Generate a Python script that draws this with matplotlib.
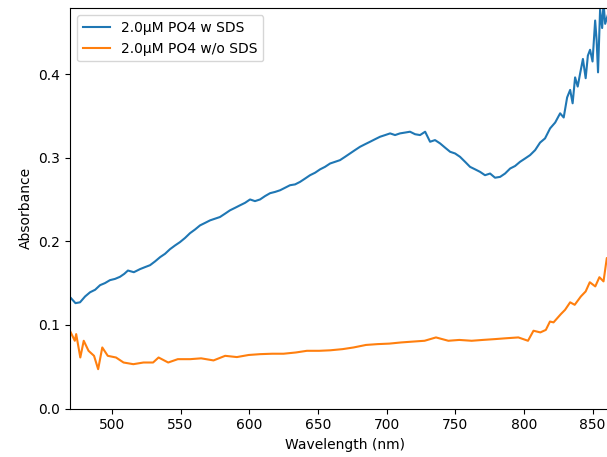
import matplotlib
matplotlib.use("Agg")
import matplotlib.pyplot as plt

# Series: 2.0uM PO4 with SDS
wl_sds = [470.2, 473.5, 476.8, 480.5, 484.1, 487.8, 491.4, 495.0, 498.6, 502.3, 505.9, 509.0,
          511.7, 516.0, 520.5, 524.0, 527.8, 531.5, 535.1, 538.7, 542.3, 546.0, 549.6, 553.3,
          556.9, 560.5, 564.2, 567.9, 571.5, 575.1, 578.7, 582.4, 586.0, 589.7, 593.3, 597.0,
          600.6, 604.2, 607.9, 611.5, 615.2, 618.8, 622.5, 626.1, 629.7, 633.4, 637.0, 640.7,
          644.3, 648.0, 651.6, 655.2, 658.9, 662.5, 666.1, 669.8, 673.4, 677.0, 680.7, 684.3,
          688.0, 691.6, 695.3, 699.0, 702.6, 706.2, 709.8, 713.5, 717.1, 720.8, 724.4, 728.1,
          731.7, 735.3, 739.0, 742.6, 746.3, 749.9, 753.5, 757.2, 760.8, 764.5, 768.1, 771.7,
          775.4, 779.0, 782.7, 786.3, 790.0, 793.6, 797.2, 800.9, 804.5, 808.2, 811.8, 815.4,
          819.1, 822.8, 826.4, 829.0, 831.5, 833.7, 835.5, 837.3, 839.2, 841.0, 843.0, 845.0,
          846.6, 848.2, 850.0, 851.9, 853.0, 854.0, 855.5, 857.0, 858.0, 859.2, 861.0]
ab_sds = [0.132, 0.126, 0.127, 0.134, 0.139, 0.142, 0.1475, 0.150, 0.1535, 0.155, 0.1575, 0.161,
          0.165, 0.163, 0.1667, 0.169, 0.1714, 0.176, 0.181, 0.185, 0.1905, 0.195, 0.199, 0.204,
          0.2097, 0.214, 0.219, 0.222, 0.225, 0.227, 0.229, 0.233, 0.237, 0.240, 0.243, 0.246,
          0.250, 0.248, 0.250, 0.254, 0.2575, 0.259, 0.261, 0.264, 0.267, 0.268, 0.271, 0.275,
          0.279, 0.282, 0.286, 0.289, 0.293, 0.295, 0.297, 0.301, 0.305, 0.309, 0.313, 0.316,
          0.319, 0.322, 0.325, 0.327, 0.329, 0.327, 0.329, 0.330, 0.331, 0.328, 0.327, 0.331,
          0.319, 0.321, 0.317, 0.312, 0.307, 0.305, 0.301, 0.295, 0.289, 0.286, 0.283, 0.279,
          0.281, 0.276, 0.277, 0.281, 0.287, 0.290, 0.295, 0.299, 0.303, 0.309, 0.318, 0.323,
          0.335, 0.342, 0.353, 0.348, 0.372, 0.381, 0.365, 0.396, 0.385, 0.401, 0.418, 0.395,
          0.422, 0.429, 0.415, 0.464, 0.440, 0.402, 0.477, 0.455, 0.485, 0.460, 0.470]

# Series: 2.0uM PO4 without SDS
wl_nosds = [469.5, 473.0, 474.0, 477.0, 479.5, 483.0, 487.0, 490.0, 493.0, 497.0, 503.0, 508.5,
            515.6, 523.0, 530.0, 534.0, 541.0, 548.0, 557.0, 565.0, 574.0, 582.5, 591.0, 599.6,
            608.0, 616.7, 625.0, 634.0, 642.0, 651.0, 659.0, 668.0, 676.0, 685.0, 693.5, 702.0,
            710.6, 719.0, 727.7, 736.0, 745.0, 753.0, 762.0, 770.0, 779.0, 787.0, 796.0, 803.0,
            807.0, 812.0, 816.0, 819.0, 821.6, 827.0, 830.0, 833.7, 837.0, 841.5, 845.0, 848.0,
            852.0, 855.0, 858.0, 860.4, 862.0]
ab_nosds = [0.0928, 0.081, 0.089, 0.061, 0.081, 0.069, 0.063, 0.047, 0.073, 0.063, 0.061, 0.055,
            0.053, 0.055, 0.055, 0.061, 0.055, 0.059, 0.059, 0.060, 0.0575, 0.063, 0.0615, 0.064,
            0.065, 0.0655, 0.0655, 0.067, 0.069, 0.069, 0.0696, 0.071, 0.073, 0.076, 0.077, 0.0776,
            0.079, 0.080, 0.081, 0.085, 0.081, 0.082, 0.081, 0.082, 0.083, 0.084, 0.085, 0.081,
            0.093, 0.091, 0.094, 0.104, 0.103, 0.113, 0.118, 0.127, 0.124, 0.134, 0.140, 0.151,
            0.146, 0.157, 0.152, 0.180, 0.176]

labels = ["2.0μM PO4 w SDS", "2.0μM PO4 w/o SDS"]

W, H = 607, 457
fig = plt.figure(figsize=(W / 100, H / 100), dpi=100)
ax = fig.add_axes([70 / W, 48.5 / H, 550 / W, 400.2 / H])

ax.plot(wl_sds, ab_sds, color="#1f77b4", lw=1.5, label=labels[0])
ax.plot(wl_nosds, ab_nosds, color="#ff7f0e", lw=1.5, label=labels[1])

ax.set_xlim(469.5, 870)
ax.set_ylim(0, 0.4786)
ax.set_xticks([500, 550, 600, 650, 700, 750, 800, 850])
ax.set_yticks([0.0, 0.1, 0.2, 0.3, 0.4])
ax.set_xlabel("Wavelength (nm)")
ax.set_ylabel("Absorbance")
ax.legend(loc="upper left")

fig.savefig("out.png", dpi=100)
